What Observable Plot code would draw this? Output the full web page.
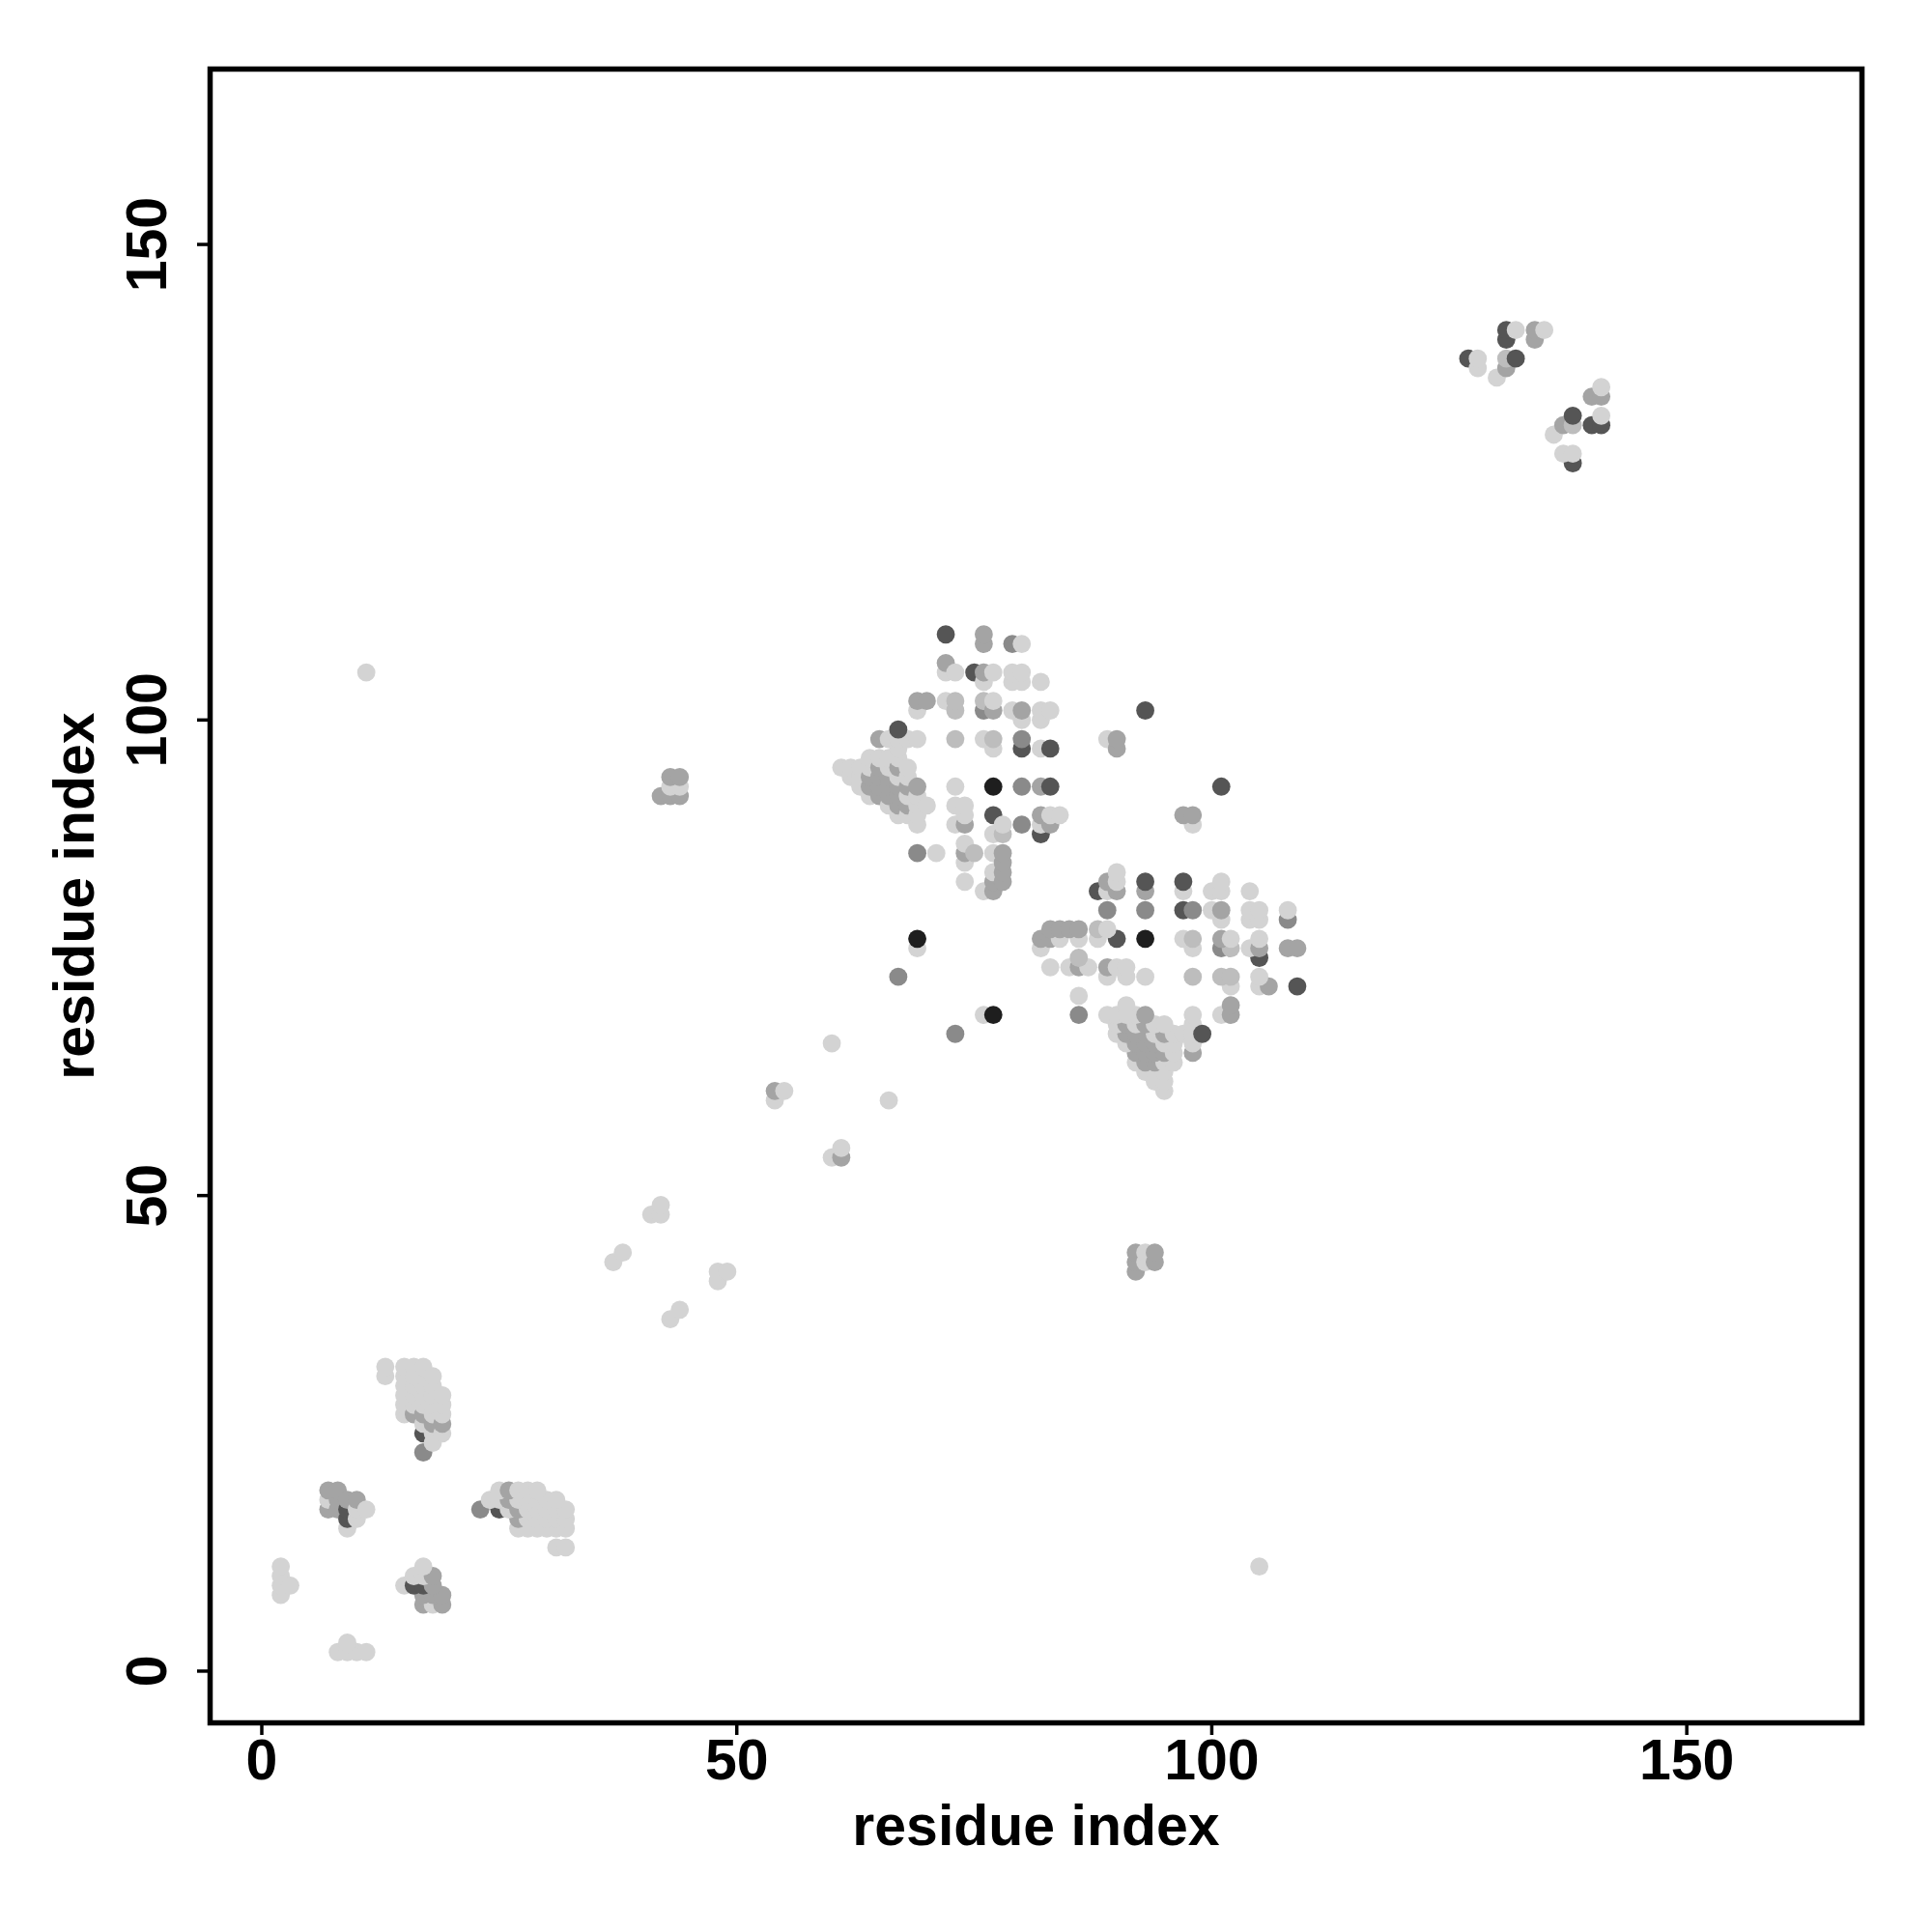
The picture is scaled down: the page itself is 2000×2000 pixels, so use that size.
<!DOCTYPE html>
<html>
<head>
<meta charset="utf-8">
<script src="https://cdn.jsdelivr.net/npm/d3@7"></script>
<script src="https://cdn.jsdelivr.net/npm/@observablehq/plot@0.6"></script>
<style>
  html, body { margin: 0; padding: 0; background: #ffffff; }
  #chart { width: 2000px; height: 2000px; }
</style>
</head>
<body>
<div id="chart"></div>
<script>
// Contact pairs (i < j); the map is symmetric, each pair is drawn at (i,j) and (j,i).
// level: 1 = light grey ... 6 = near black
const ci = [
  2,2,2,2,3,
  7,7,7,8,8,8,9,9,9,9,10,10,10,11,
  13,13,
  15,15,15,15,15,15,
  16,16,16,16,16,16,
  17,17,17,17,17,17,17,17,17,
  18,18,18,18,18,18,18,18,
  19,19,19,19,19,
  11,
  37,38,41,42,42,54,54,55,60,
  42,43,44,43,44,43,44,
  67,69,69,
  61,
  62,62,
  63,63,63,
  64,64,64,64,64,
  65,65,65,65,65,
  66,66,66,66,66,66,
  67,67,67,67,67,67,67,67,
  68,68,68,68,68,68,
  69,69,69,69,69,
  70,
  65,66,67,68,69,67,
  69,71,
  69,69,70,
  72,72,72,72,
  73,73,73,73,73,73,73,
  74,74,74,74,74,74,74,
  75,75,
  76,76,76,76,76,76,76,76,
  77,77,77,77,77,77,77,77,77,77,77,77,
  78,78,78,78,78,78,
  79,79,79,79,
  80,80,80,80,80,80,80,80,80,
  82,82,82,82,82,82,82,82,
  83,83,83,83,83,
  84,
  89,90,90,93,
  127,128,128,130,131,131,131,131,132,132,134,134,135
];
const cj = [
  8,9,10,11,9,
  17,18,19,17,18,19,15,16,17,18,16,17,18,17,
  31,32,
  27,28,29,30,31,32,
  27,28,29,30,31,32,
  23,25,26,27,28,29,30,31,32,
  24,25,26,27,28,29,30,31,
  25,26,27,28,29,
  105,
  43,44,48,48,49,60,61,61,66,
  92,92,92,93,93,94,94,
  73,76,77,
  95,
  94,95,
  93,94,95,
  92,93,94,95,96,
  92,93,94,95,96,
  91,92,93,94,95,96,
  90,91,92,93,94,95,96,97,
  90,91,92,93,94,95,
  89,90,91,92,93,
  91,
  98,98,98,98,98,99,
  86,86,
  101,102,102,
  102,105,106,109,
  89,91,93,98,101,102,105,
  83,85,86,87,89,90,91,
  86,105,
  82,98,101,102,104,105,108,109,
  82,83,84,86,88,90,93,97,98,101,102,105,
  83,84,85,86,88,89,
  101,104,105,108,
  89,93,97,98,100,101,104,105,108,
  88,89,90,93,97,100,101,104,
  89,90,93,97,101,
  90,
  98,97,98,101,
  138,137,138,136,137,138,140,141,138,141,140,141,141
];
const cv = [
  1,1,1,1,1,
  3,1,3,3,3,3,1,5,5,3,1,1,3,1,
  1,1,
  1,1,1,1,1,1,
  3,1,1,1,1,1,
  4,5,1,3,1,1,1,1,1,
  1,1,3,1,1,1,1,1,
  1,3,1,1,1,
  1,
  1,1,1,1,1,1,3,1,1,
  3,3,3,1,1,3,3,
  4,1,6,
  1,
  1,1,
  1,1,1,
  1,3,3,1,1,
  3,3,3,3,1,
  1,3,3,3,1,1,
  1,3,3,3,1,3,1,1,
  1,3,1,3,1,1,
  1,1,1,1,3,
  1,
  3,1,1,1,1,5,
  4,1,
  1,3,3,
  1,1,3,5,
  1,1,1,2,2,2,1,
  1,1,3,1,3,1,1,
  2,5,
  1,1,4,2,1,3,3,3,
  3,3,1,1,1,5,6,1,2,3,1,1,
  3,3,3,3,2,1,
  1,1,1,4,
  4,4,5,4,1,3,1,1,1,
  5,1,3,3,1,1,1,1,
  3,1,5,5,1,
  1,
  1,3,3,5,
  5,1,1,1,3,2,5,5,5,1,3,3,1
];

const levels = [1, 2, 3, 4, 5, 6];
const greys = ["#d3d3d3", "#bdbdbd", "#a4a4a4", "#8a8a8a", "#555555", "#1e1e1e"];
const xTicks = [0, 50, 100, 150];
const yTicks = [0, 50, 100, 150];
const domain = [-5.44, 168.44];
const axisTitle = "residue index";

const points = [];
ci.forEach((i, k) => points.push({x: i, y: cj[k], v: cv[k]}));
ci.forEach((i, k) => points.push({x: cj[k], y: i, v: cv[k]}));

const font = "Liberation Sans, Arial, Helvetica, sans-serif";

const chart = Plot.plot({
  width: 2000,
  height: 2000,
  marginLeft: 217,
  marginRight: 73,
  marginTop: 71,
  marginBottom: 217,
  style: {background: "#ffffff", fontFamily: font, fontWeight: "bold", color: "#000000"},
  x: {domain, axis: null},
  y: {domain, axis: null},
  color: {type: "ordinal", domain: levels, range: greys},
  marks: [
    Plot.dot(points, {x: "x", y: "y", r: 9.4, fill: "v", stroke: null}),
    Plot.frame({stroke: "#000000", strokeWidth: 5.5}),
    Plot.axisX({ticks: xTicks, anchor: "bottom", tickSize: 13, tickPadding: 4, strokeWidth: 3.5,
      fontSize: 59, fontWeight: "bold", label: null, tickFormat: d => String(d)}),
    Plot.axisY({ticks: yTicks, anchor: "left", tickSize: 13, tickPadding: 33, tickRotate: -90, strokeWidth: 3.5,
      fontSize: 59, fontWeight: "bold", label: null, tickFormat: d => String(d)}),
    Plot.text([axisTitle], {frameAnchor: "bottom", textAnchor: "middle", dy: 126, text: d => d, fontSize: 59, fontWeight: "bold", fill: "#000000"}),
    Plot.text([axisTitle], {frameAnchor: "left", textAnchor: "middle", dx: -139, rotate: -90, text: d => d, fontSize: 59, fontWeight: "bold", fill: "#000000"})
  ]
});
document.getElementById("chart").appendChild(chart);
</script>
</body>
</html>
